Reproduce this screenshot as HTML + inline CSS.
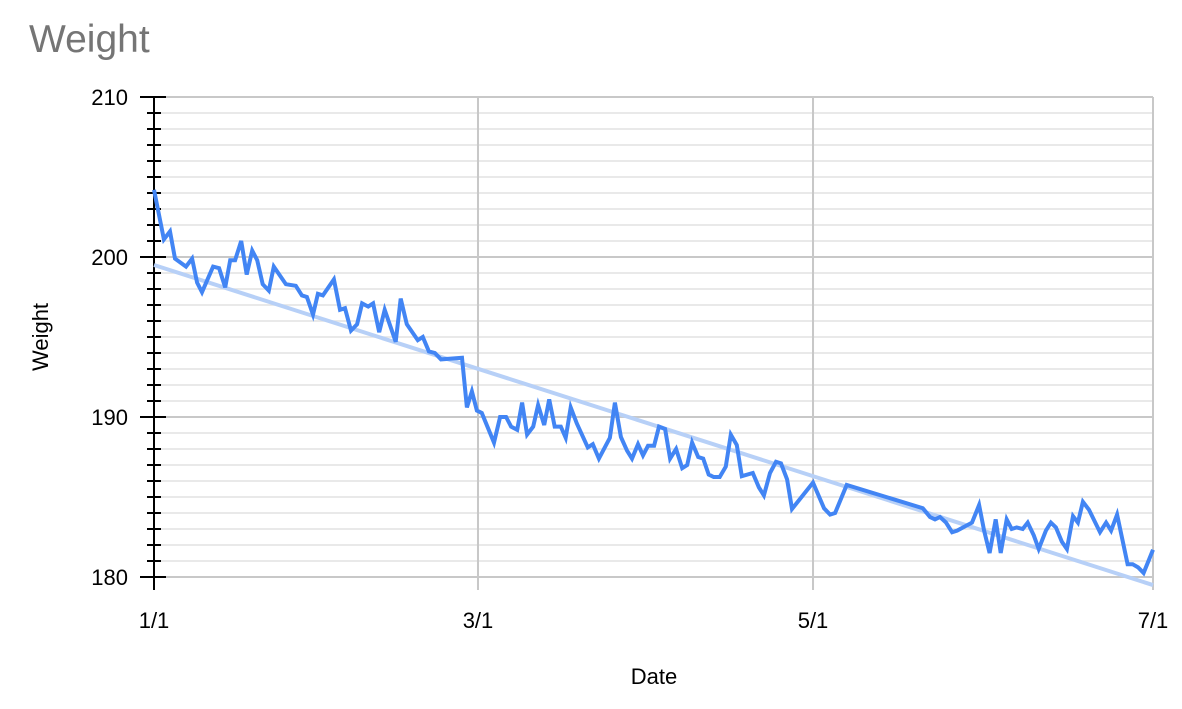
<!DOCTYPE html>
<html><head><meta charset="utf-8"><style>
body{margin:0;background:#fff;}
svg text{font-family:"Liberation Sans",Arial,sans-serif;}
</style></head><body>
<svg id="chart" width="1182" height="704" xmlns="http://www.w3.org/2000/svg">
<text x="29" y="52" font-size="39" fill="#757575">Weight</text>
<g id="grid"></g><g id="axes"></g><g id="marks"></g>
<text x="654" y="684" font-size="22" text-anchor="middle" fill="#000">Date</text>
<text transform="translate(48,337) rotate(-90)" font-size="22" text-anchor="middle" fill="#000">Weight</text>
</svg>
<script>
const days=[0,1.8,2.9,3.8,5.8,6.9,7.8,8.7,10.7,11.8,12.9,13.8,14.7,15.8,16.8,17.8,18.7,19.7,20.8,21.7,23.9,25.7,26.8,27.7,28.8,29.7,30.6,32.6,33.7,34.6,35.7,36.8,37.7,38.8,39.7,40.8,41.8,43.8,44.7,45.8,47.8,48.7,49.8,50.9,52,55.8,56.7,57.6,58.5,59.4,61.6,62.7,63.8,64.7,65.8,66.7,67.6,68.7,69.6,70.7,71.6,72.6,73.7,74.6,75.5,76.6,78.6,79.5,80.6,82.6,83.5,84.6,85.7,86.6,87.7,88.6,89.5,90.6,91.5,92.6,93.5,94.6,95.7,96.6,97.5,98.6,99.5,100.5,101.4,102.5,103.6,104.5,105.6,106.5,108.5,109.6,110.5,111.6,112.7,113.6,114.7,115.6,119.4,121.4,122.5,123.4,125.5,139.3,140.6,141.5,142.4,143.5,144.6,145.5,148.2,149.5,150.4,151.4,152.5,153.4,154.5,155.4,156.3,157.4,158.3,159.4,160.3,161.6,162.5,163.4,164.5,165.4,166.5,167.4,168.3,169.4,171.4,172.5,173.4,174.5,176.4,177.3,178.3,179.3,181];
const weights=[204.2,201.1,201.6,199.9,199.4,199.9,198.4,197.8,199.4,199.3,198.1,199.8,199.8,201.0,198.9,200.4,199.8,198.3,197.9,199.4,198.3,198.2,197.6,197.5,196.4,197.7,197.6,198.6,196.7,196.8,195.4,195.8,197.1,196.9,197.1,195.3,196.7,194.7,197.4,195.8,194.8,195.0,194.1,194.0,193.6,193.7,190.6,191.6,190.4,190.25,188.4,190.0,190.0,189.4,189.2,190.9,188.9,189.4,190.75,189.5,191.1,189.4,189.4,188.7,190.6,189.6,188.1,188.3,187.4,188.7,190.9,188.75,187.9,187.4,188.3,187.6,188.2,188.2,189.4,189.25,187.4,188.0,186.8,187.0,188.4,187.5,187.4,186.4,186.25,186.25,186.9,188.9,188.25,186.3,186.5,185.6,185.1,186.5,187.2,187.1,186.1,184.25,185.9,184.3,183.9,184.0,185.75,184.3,183.75,183.6,183.75,183.4,182.8,182.9,183.4,184.5,182.9,181.5,183.6,181.5,183.6,183.0,183.1,183.0,183.4,182.6,181.75,182.9,183.4,183.1,182.2,181.75,183.8,183.4,184.7,184.2,182.8,183.4,182.9,183.9,180.8,180.8,180.6,180.25,181.7];
const xTickDays=[0,58.7,119.4,181];
const xTickLabels=["1/1","3/1","5/1","7/1"];
const yTicks=[180,190,200,210];
const NS="http://www.w3.org/2000/svg";
const X0=154,X1=1153,Y0=577,Y1=97,DMAX=181,WMIN=180,WMAX=210;
const xs=d=>X0+(d/DMAX)*(X1-X0);
const ys=w=>Y0-(w-WMIN)/(WMAX-WMIN)*(Y0-Y1);
function mk(tag,attrs,parent){const e=document.createElementNS(NS,tag);for(const k in attrs)e.setAttribute(k,attrs[k]);parent.appendChild(e);return e;}
const grid=document.getElementById('grid'),axes=document.getElementById('axes'),marks=document.getElementById('marks');
for(let w=WMIN;w<=WMAX;w++){
  const major=(w%10===0);
  const l=mk('line',{x1:X0,x2:X1,y1:ys(w),y2:ys(w),stroke:major?'#c8c8c8':'#e2e2e2','stroke-width':major?2:1.5},grid);
  
  
  const t=mk('line',{x1:major?140:147,x2:major?166:161,y1:ys(w),y2:ys(w),stroke:'#000','stroke-width':2},axes);
  
  
}
yTicks.forEach(v=>{
  const t=mk('text',{x:128,y:ys(v)+8,'font-size':22,'text-anchor':'end',fill:'#000'},axes);
  t.textContent=v;
  
  
});
xTickDays.forEach((d,i)=>{
  if(d>0){const g=mk('line',{x1:xs(d),x2:xs(d),y1:Y1,y2:590,stroke:'#c8c8c8','stroke-width':2},grid);
  
  }
  const t=mk('text',{x:xs(d),y:628,'font-size':22,'text-anchor':'middle',fill:'#000'},axes);
  t.textContent=xTickLabels[i];
  
  
});
const ya=mk('line',{x1:X0,x2:X0,y1:Y1,y2:590,stroke:'#000','stroke-width':2},axes);


const n=days.length;let sx=0,sy=0,sxx=0,sxy=0;
for(let i=0;i<n;i++){sx+=days[i];sy+=weights[i];sxx+=days[i]*days[i];sxy+=days[i]*weights[i];}
const b=(n*sxy-sx*sy)/(n*sxx-sx*sx),a=(sy-b*sx)/n;
const tr=mk('line',{x1:xs(0),y1:ys(a),x2:xs(DMAX),y2:ys(a+b*DMAX),stroke:'#b7d0f7','stroke-width':4},marks);


const pts=days.map((d,i)=>xs(d).toFixed(1)+','+ys(weights[i]).toFixed(1)).join(' ');
const pl=mk('polyline',{points:pts,fill:'none',stroke:'#4285f4','stroke-width':4,'stroke-linejoin':'miter'},marks);


</script>
</body></html>
